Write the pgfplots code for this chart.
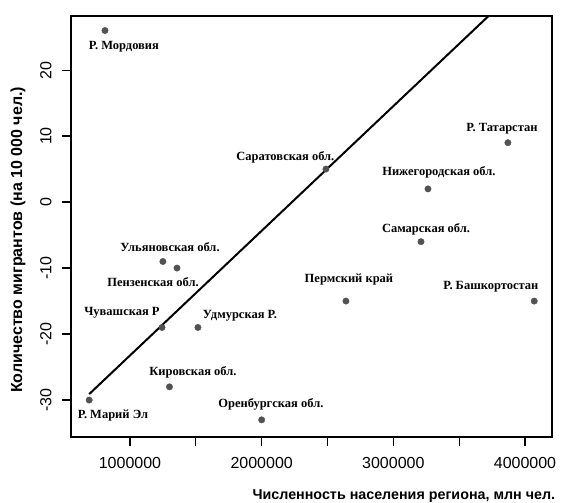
\documentclass[border=0pt]{standalone}
\usepackage{fontspec}
\setmainfont{Liberation Serif}
\setsansfont{Liberation Sans}
\usepackage{pgfplots}
\pgfplotsset{compat=1.18}
\tikzset{lbl/.style={font=\bfseries\fontsize{12.5}{14}\selectfont, inner sep=0pt}}
\begin{document}
\begin{tikzpicture}
\begin{axis}[
 scale only axis, width=481pt, height=421pt,
 xmin=552000, xmax=4205000, ymin=-35.6, ymax=28.2,
 scaled x ticks=false,
 axis line style={line width=1.6pt},
 xtick={1000000,1500000,2000000,2500000,3000000,3500000,4000000},
 xticklabels={1000000,,2000000,,3000000,,4000000},
 ytick={-30,-20,-10,0,10,20},
 yticklabels={-30,-20,-10,0,10,20},
 tick align=outside, xtick pos=bottom, ytick pos=left,
 major tick length=9pt,
 tick style={line width=1.2pt, black},
 tick label style={font=\sffamily\fontsize{16}{18}\selectfont},
 yticklabel style={rotate=90, anchor=south},
 xticklabel shift=8pt, yticklabel shift=7pt,
 xlabel={Численность населения региона, млн чел.},
 ylabel={Количество мигрантов (на 10 000 чел.)},
 xlabel style={font=\sffamily\bfseries\fontsize{14.3}{16}\selectfont, at={(axis description cs:0.692,-0.14)}, anchor=center},
 ylabel style={font=\sffamily\bfseries\fontsize{16}{18}\selectfont, at={(axis description cs:-0.11,0.468)}, anchor=center, rotate=0},
 clip=true,
]
\addplot[line width=2pt, black, no markers] coordinates {(690000,-29.1) (4300000,39.1)};
\addplot[only marks, mark=*, mark size=3.2pt, color=black!68] coordinates {
(810000,26) (2488000,5) (3870000,9) (3263000,2) (3210000,-6)
(1250000,-9) (1357000,-10) (1243000,-19) (1516000,-19) (1300000,-28)
(690000,-30) (2000000,-33) (2640000,-15) (4070000,-15)};
\node[lbl] at (axis cs:954000,23.5) {Р. Мордовия};
\node[lbl] at (axis cs:2180000,6.8) {Саратовская обл.};
\node[lbl] at (axis cs:3825000,11.1) {Р. Татарстан};
\node[lbl] at (axis cs:3346000,4.5) {Нижегородская обл.};
\node[lbl] at (axis cs:3248000,-4.1) {Самарская обл.};
\node[lbl] at (axis cs:1304000,-6.8) {Ульяновская обл.};
\node[lbl] at (axis cs:1175000,-12.1) {Пензенская обл.};
\node[lbl] at (axis cs:939000,-16.8) {Чувашская Р};
\node[lbl] at (axis cs:1835000,-17.3) {Удмурская Р.};
\node[lbl] at (axis cs:1478000,-25.8) {Кировская обл.};
\node[lbl] at (axis cs:871000,-32.3) {Р. Марий Эл};
\node[lbl] at (axis cs:2070000,-30.6) {Оренбургская обл.};
\node[lbl] at (axis cs:2663000,-11.8) {Пермский край};
\node[lbl] at (axis cs:3741000,-12.9) {Р. Башкортостан};
\coordinate (sw) at (rel axis cs:0,0);
\coordinate (ne) at (rel axis cs:1,1);
\end{axis}
\pgfresetboundingbox
\path ([shift={(-71pt,-65pt)}]sw) rectangle ([shift={(9pt,16pt)}]ne);
\end{tikzpicture}
\end{document}
